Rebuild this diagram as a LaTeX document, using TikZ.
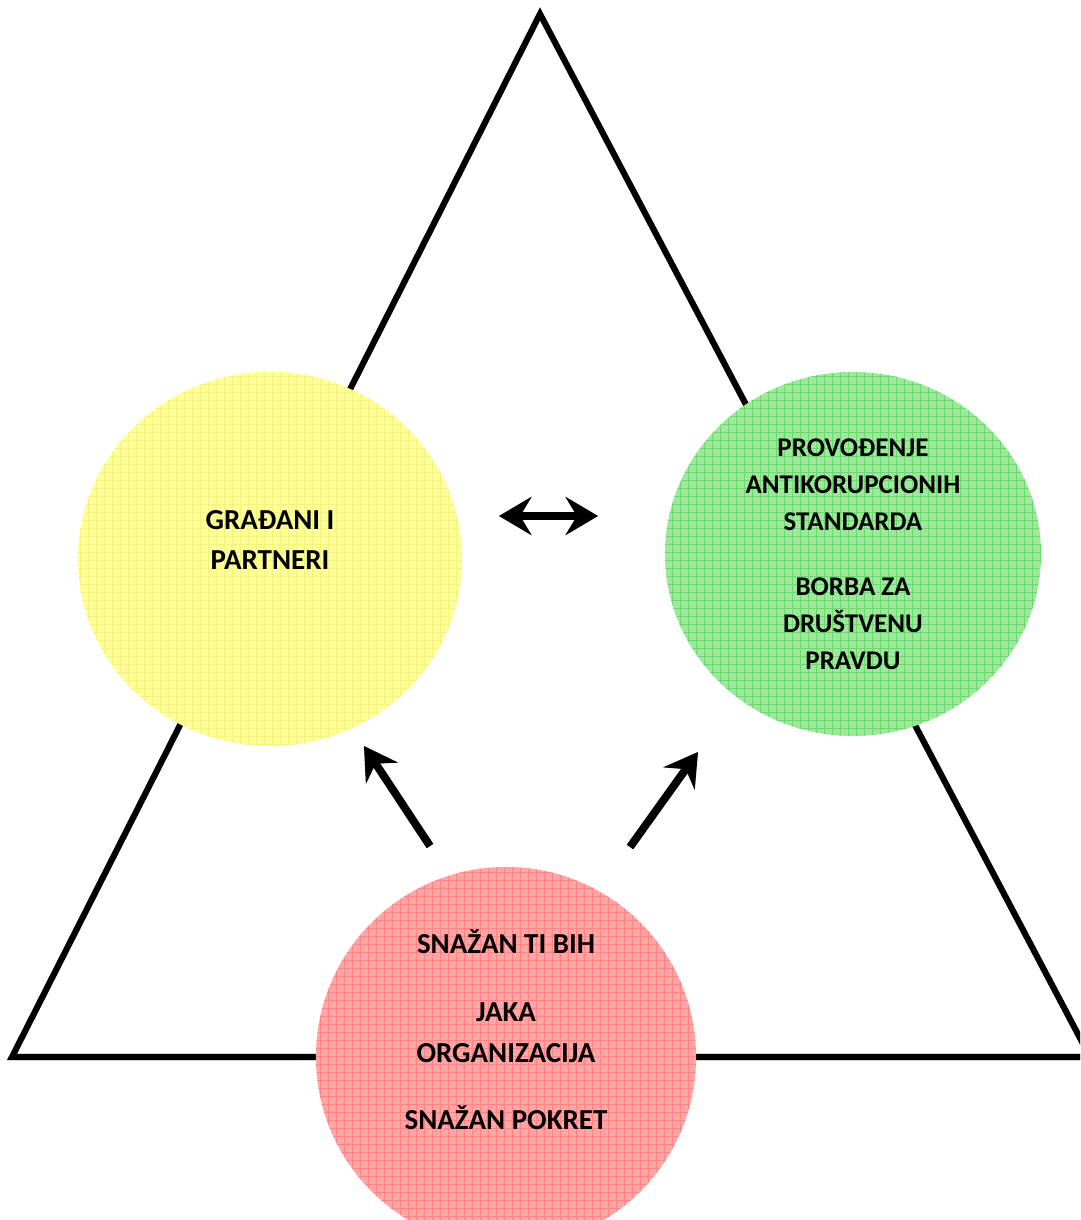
\documentclass[tikz,border=0pt]{standalone}
\usepackage{fontspec}
\setmainfont{Carlito}
\usetikzlibrary{positioning,shapes.geometric,arrows.meta}
\definecolor{yelfill}{HTML}{FFFF99}
\definecolor{yelgrid}{HTML}{F4F47C}
\definecolor{grnfill}{HTML}{9DE89D}
\definecolor{grngrid}{HTML}{6ADB6A}
\definecolor{redfill}{HTML}{FFA5A5}
\definecolor{redgrid}{HTML}{FF8585}

\begin{document}
\begin{tikzpicture}[x=0.025cm, y=-0.025cm,
    >={Stealth[length=23pt,width=27pt,inset=8pt]},
    blob/.style={ellipse, inner sep=0pt, draw=none},
    lbl/.style={font=\fontsize{20.6}{28.6}\selectfont\bfseries, align=center},
    edge/.style={line width=4.3pt, line join=miter},
    arr/.style={line width=5.6pt},
    ghost/.style={black!35, xshift=2pt, yshift=-3pt}]
  \clip (0,0) rectangle (1080,1220);
  \fill[white] (0,0) rectangle (1080,1220);

  \coordinate (top) at (540,14);
  \coordinate (bl) at (12,1057);
  \coordinate (br) at (1090,1057);
  \draw[edge, ghost] (top) -- (bl) -- (br) -- cycle;
  \draw[edge] (top) -- (bl) -- (br) -- cycle;

  \node[blob, fill=yelfill, minimum width=9.6cm, minimum height=9.35cm] (G) at (270,559) {};
  \node[blob, fill=grnfill, minimum width=9.4cm, minimum height=9.1cm] (P) at (853,554) {};
  \node[blob, fill=redfill, minimum width=9.5cm, minimum height=9.5cm] (S) at (506,1057) {};

  \foreach \cx/\cy/\rx/\ry/\col in {270/559/192/187/yelgrid, 853/554/188/182/grngrid, 506/1057/190/190/redgrid}{
    \begin{scope}
      \clip (\cx,\cy) ellipse [x radius=\rx, y radius=\ry];
      \draw[\col, line width=0.5pt, step=0.2cm] (\cx-\rx,\cy-\ry) grid (\cx+\rx,\cy+\ry);
    \end{scope}
  }

  \node[lbl] (Gt) at (270,540) {GRAĐANI I\\PARTNERI};
  \node[lbl, font=\fontsize{19.2}{26.4}\selectfont\bfseries] (Pt) at (853,554) {PROVOĐENJE\\ANTIKORUPCIONIH\\STANDARDA\\[19.5pt]BORBA ZA\\DRUŠTVENU\\PRAVDU};
  \node[lbl, font=\fontsize{20.6}{29}\selectfont\bfseries] (St) at (506,1030) {SNAŽAN TI BIH\\[19pt]JAKA\\ORGANIZACIJA\\[19pt]SNAŽAN POKRET};

  \coordinate (mL) at (499,516);
  \coordinate (mR) at (598,516);
  \coordinate (lT) at (430,846);
  \coordinate (lH) at (364,746);
  \coordinate (rT) at (630,847);
  \coordinate (rH) at (698,752);

  \draw[arr, <->, ghost] (mL) -- (mR);
  \draw[arr, ->, ghost] (lT) -- (lH);
  \draw[arr, ->, ghost] (rT) -- (rH);
  \draw[arr, <->] (mL) -- (mR);
  \draw[arr, ->] (lT) -- (lH);
  \draw[arr, ->] (rT) -- (rH);
\end{tikzpicture}
\end{document}
